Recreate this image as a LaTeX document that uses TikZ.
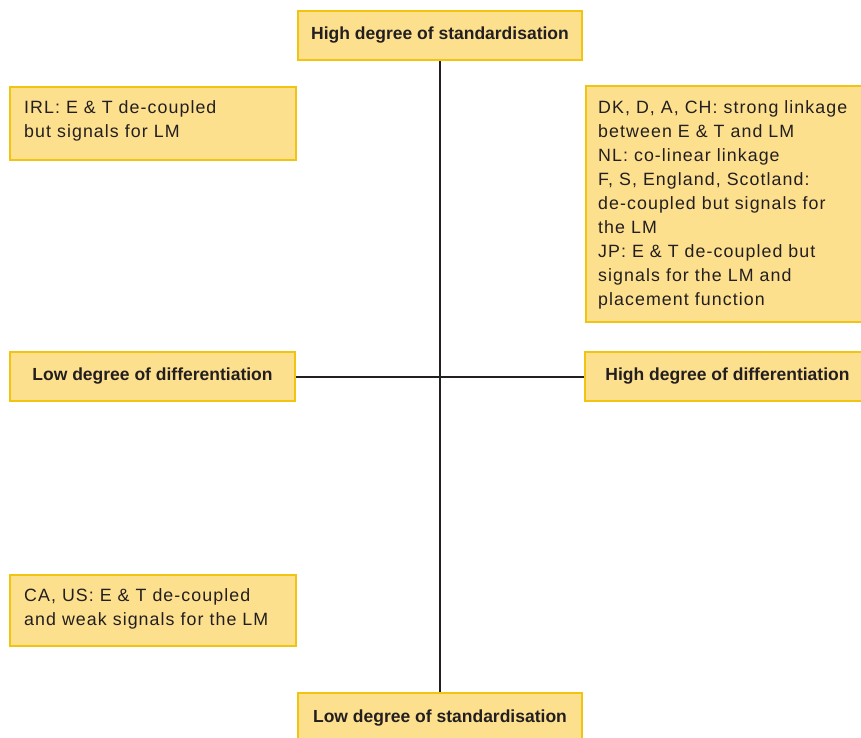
\documentclass[tikz,border=0pt]{standalone}
\usepackage{fontspec}
\setmainfont{Liberation Sans}
\newfontfamily\spacedfont[LetterSpace=6.0]{Liberation Sans}
\usetikzlibrary{backgrounds}
\definecolor{boxfill}{RGB}{253,224,142}
\definecolor{boxdraw}{RGB}{242,196,18}
\definecolor{ink}{RGB}{35,31,32}
\begin{document}
\begin{tikzpicture}[x=1pt,y=-1pt,
  box/.style={draw=boxdraw, fill=boxfill, line width=2.4pt, rectangle, inner sep=0pt, text=ink},
  axislabel/.style={box, minimum width=284pt, minimum height=49pt, font=\fontsize{17.5}{21}\selectfont\bfseries},
  bodytext/.style={anchor=north west, inner sep=0pt, align=left, text=ink, font=\spacedfont\fontsize{17.8}{24}\selectfont},
  axisline/.style={draw=ink, line width=2pt}]
\useasboundingbox (0,0) rectangle (861,737);
\clip (0,0) rectangle (861,737);
% axis labels
\node[axislabel] (hs) at (440,35.5) {High degree of standardisation};
\node[axislabel] (ls) at (440,717.5) {Low degree of standardisation};
\node[axislabel, minimum width=285pt] (ld) at (152.5,376.5) {Low degree of differentiation};
\node[axislabel, minimum width=285pt] (hd) at (727.5,376.5) {High degree of differentiation};
% content boxes
\node[box, minimum width=286pt, minimum height=73pt] (irl) at (153,123.5) {};
\node[box, minimum width=285pt, minimum height=236pt] (rt) at (728.5,204) {};
\node[box, minimum width=286pt, minimum height=71pt] (ca) at (153,610.5) {};
\node[bodytext] (irltext) at (24,100.4) {IRL: E \& T de-coupled\\but signals for LM};
\node[bodytext] (rttext) at (598,100.4) {DK, D, A, CH: strong linkage\\between E \& T and LM\\NL: co-linear linkage\\F, S, England, Scotland:\\de-coupled but signals for\\the LM\\JP: E \& T de-coupled but\\signals for the LM and\\placement function};
\node[bodytext] (catext) at (24,588.8) {CA, US: E \& T de-coupled\\and weak signals for the LM};
% axes
\begin{pgfonlayer}{background}
\draw[axisline] (hs.south) -- (ls.north);
\draw[axisline] (ld.east) -- (hd.west);
\end{pgfonlayer}
\end{tikzpicture}
\end{document}
